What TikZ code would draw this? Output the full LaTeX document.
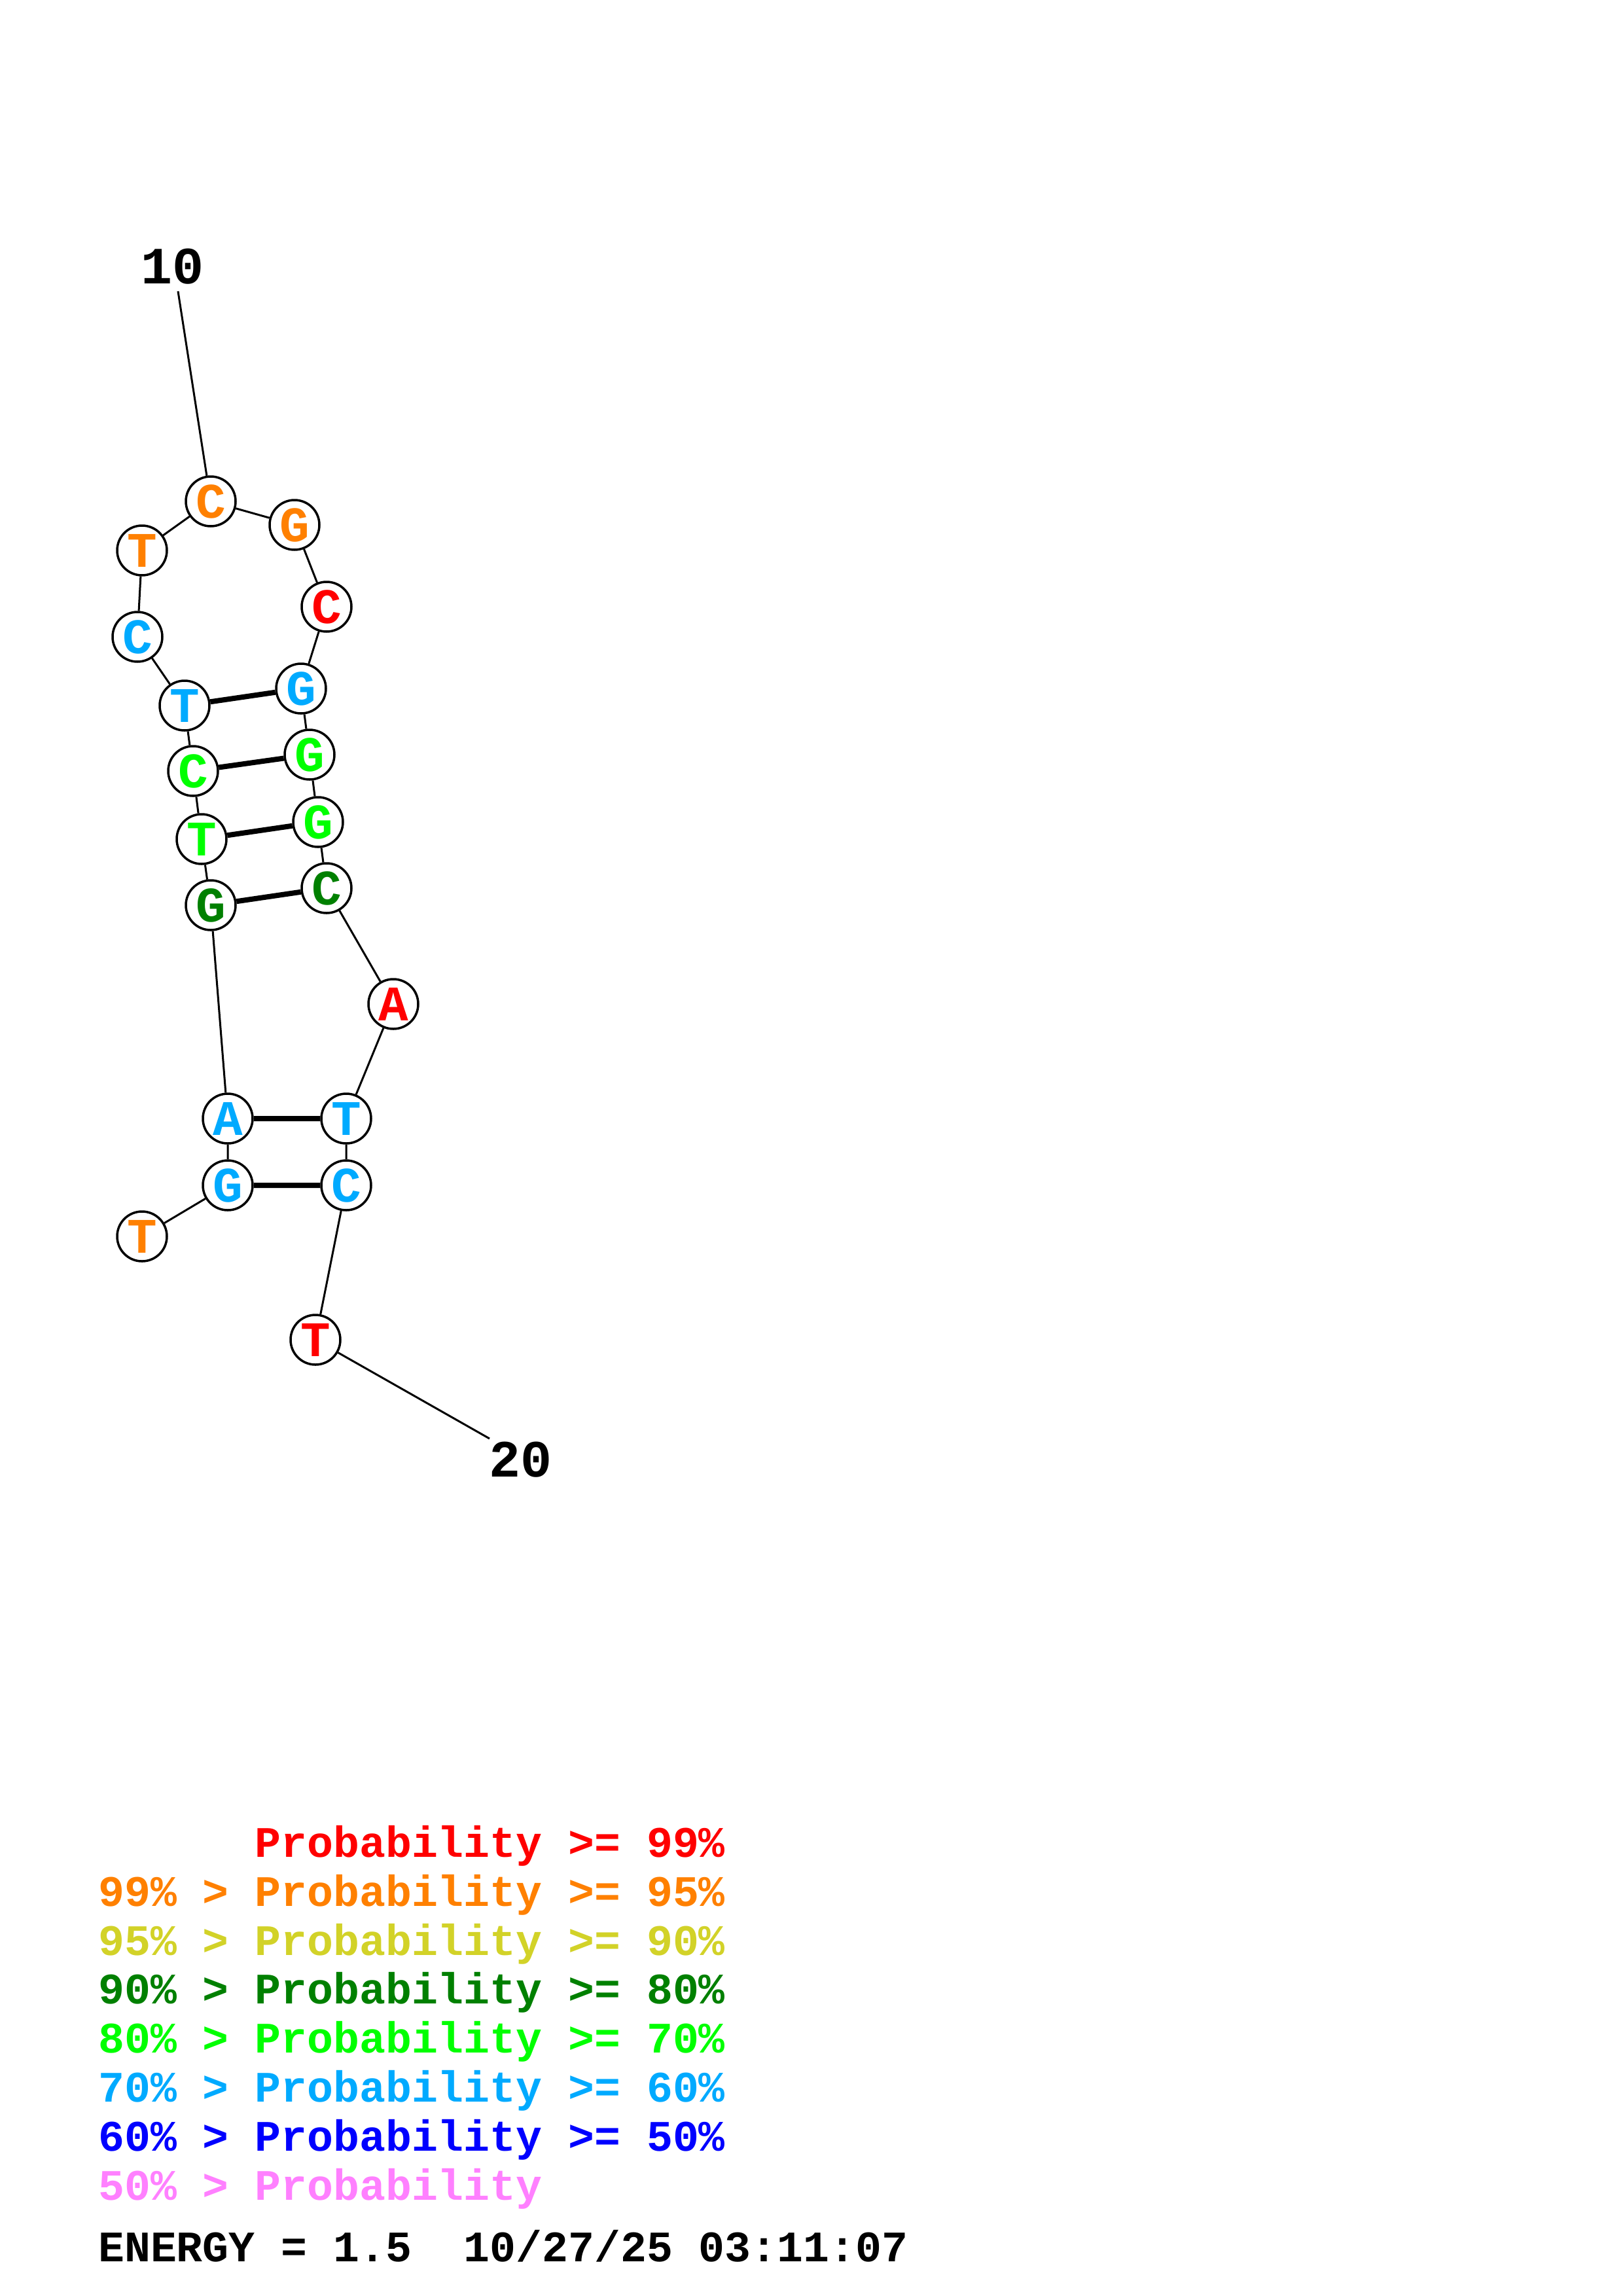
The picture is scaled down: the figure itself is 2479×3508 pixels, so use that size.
\documentclass[tikz,border=0pt]{standalone}
\usepackage{fontspec}
\newfontfamily\cour{Liberation Mono}
\definecolor{cRed}{RGB}{255,0,0}
\definecolor{cOrange}{RGB}{255,128,0}
\definecolor{cYellow}{RGB}{210,210,40}
\definecolor{cDkGreen}{RGB}{0,128,0}
\definecolor{cGreen}{RGB}{0,255,0}
\definecolor{cLtBlue}{RGB}{0,170,255}
\definecolor{cBlue}{RGB}{0,0,255}
\definecolor{cPink}{RGB}{255,128,255}
\tikzset{
  nt/.style={circle,draw=black,fill=white,line width=3.5pt,inner sep=0pt,
    minimum size=76pt,font=\cour\bfseries\fontsize{76}{80}\selectfont},
  bb/.style={line width=3pt,black},
  pair/.style={line width=8pt,black},
  numlab/.style={inner sep=0pt,font=\cour\bfseries\fontsize{80}{84}\selectfont},
  leg/.style={anchor=base west,inner sep=0pt,font=\cour\bfseries\fontsize{66.5}{70}\selectfont}
}
\begin{document}
\begin{tikzpicture}[x=1pt,y=-1pt]
\path[use as bounding box,fill=white] (0,0) rectangle (2479,3508);
% nucleotides
\node[nt,text=cOrange]  (n1)  at (217,1889) {T};
\node[nt,text=cLtBlue]  (n2)  at (348,1811) {G};
\node[nt,text=cLtBlue]  (n3)  at (348,1709) {A};
\node[nt,text=cDkGreen] (n4)  at (322,1383) {G};
\node[nt,text=cGreen]   (n5)  at (308,1282) {T};
\node[nt,text=cGreen]   (n6)  at (295,1178) {C};
\node[nt,text=cLtBlue]  (n7)  at (282,1078) {T};
\node[nt,text=cLtBlue]  (n8)  at (210,973)  {C};
\node[nt,text=cOrange]  (n9)  at (217,841)  {T};
\node[nt,text=cOrange]  (n10) at (322,766)  {C};
\node[nt,text=cOrange]  (n11) at (450,802)  {G};
\node[nt,text=cRed]     (n12) at (499,927)  {C};
\node[nt,text=cLtBlue]  (n13) at (460,1052) {G};
\node[nt,text=cGreen]   (n14) at (473,1153) {G};
\node[nt,text=cGreen]   (n15) at (486,1256) {G};
\node[nt,text=cDkGreen] (n16) at (499,1357) {C};
\node[nt,text=cRed]     (n17) at (601,1534) {A};
\node[nt,text=cLtBlue]  (n18) at (529,1709) {T};
\node[nt,text=cLtBlue]  (n19) at (529,1811) {C};
\node[nt,text=cRed]     (n20) at (482,2047) {T};
% number labels
\node[numlab] (l10) at (264,407) {10};
\node[numlab] (l20) at (795,2230) {20};
\coordinate (e10) at (272,445);
\coordinate (e20) at (748,2198);
% backbone
\draw[bb] (n1)--(n2) (n2)--(n3) (n3)--(n4) (n4)--(n5) (n5)--(n6) (n6)--(n7)
  (n7)--(n8) (n8)--(n9) (n9)--(n10) (n10)--(n11) (n11)--(n12) (n12)--(n13)
  (n13)--(n14) (n14)--(n15) (n15)--(n16) (n16)--(n17) (n17)--(n18)
  (n18)--(n19) (n19)--(n20);
\draw[bb] (e10)--(n10);
\draw[bb] (n20)--(e20);
% pairs
\draw[pair] (n7)--(n13) (n6)--(n14) (n5)--(n15) (n4)--(n16) (n3)--(n18) (n2)--(n19);
% legend
\node[leg,text=cRed]     (g1) at (150,2837) {\hphantom{99\% > }Probability >= 99\%};
\node[leg,text=cOrange]  (g2) at (150,2912) {99\% > Probability >= 95\%};
\node[leg,text=cYellow]  (g3) at (150,2987) {95\% > Probability >= 90\%};
\node[leg,text=cDkGreen] (g4) at (150,3061) {90\% > Probability >= 80\%};
\node[leg,text=cGreen]   (g5) at (150,3136) {80\% > Probability >= 70\%};
\node[leg,text=cLtBlue]  (g6) at (150,3211) {70\% > Probability >= 60\%};
\node[leg,text=cBlue]    (g7) at (150,3286) {60\% > Probability >= 50\%};
\node[leg,text=cPink]    (g8) at (150,3361) {50\% > Probability};
\node[leg,text=black]    (g9) at (150,3455) {ENERGY = 1.5\ \ 10/27/25 03:11:07};
\end{tikzpicture}
\end{document}
